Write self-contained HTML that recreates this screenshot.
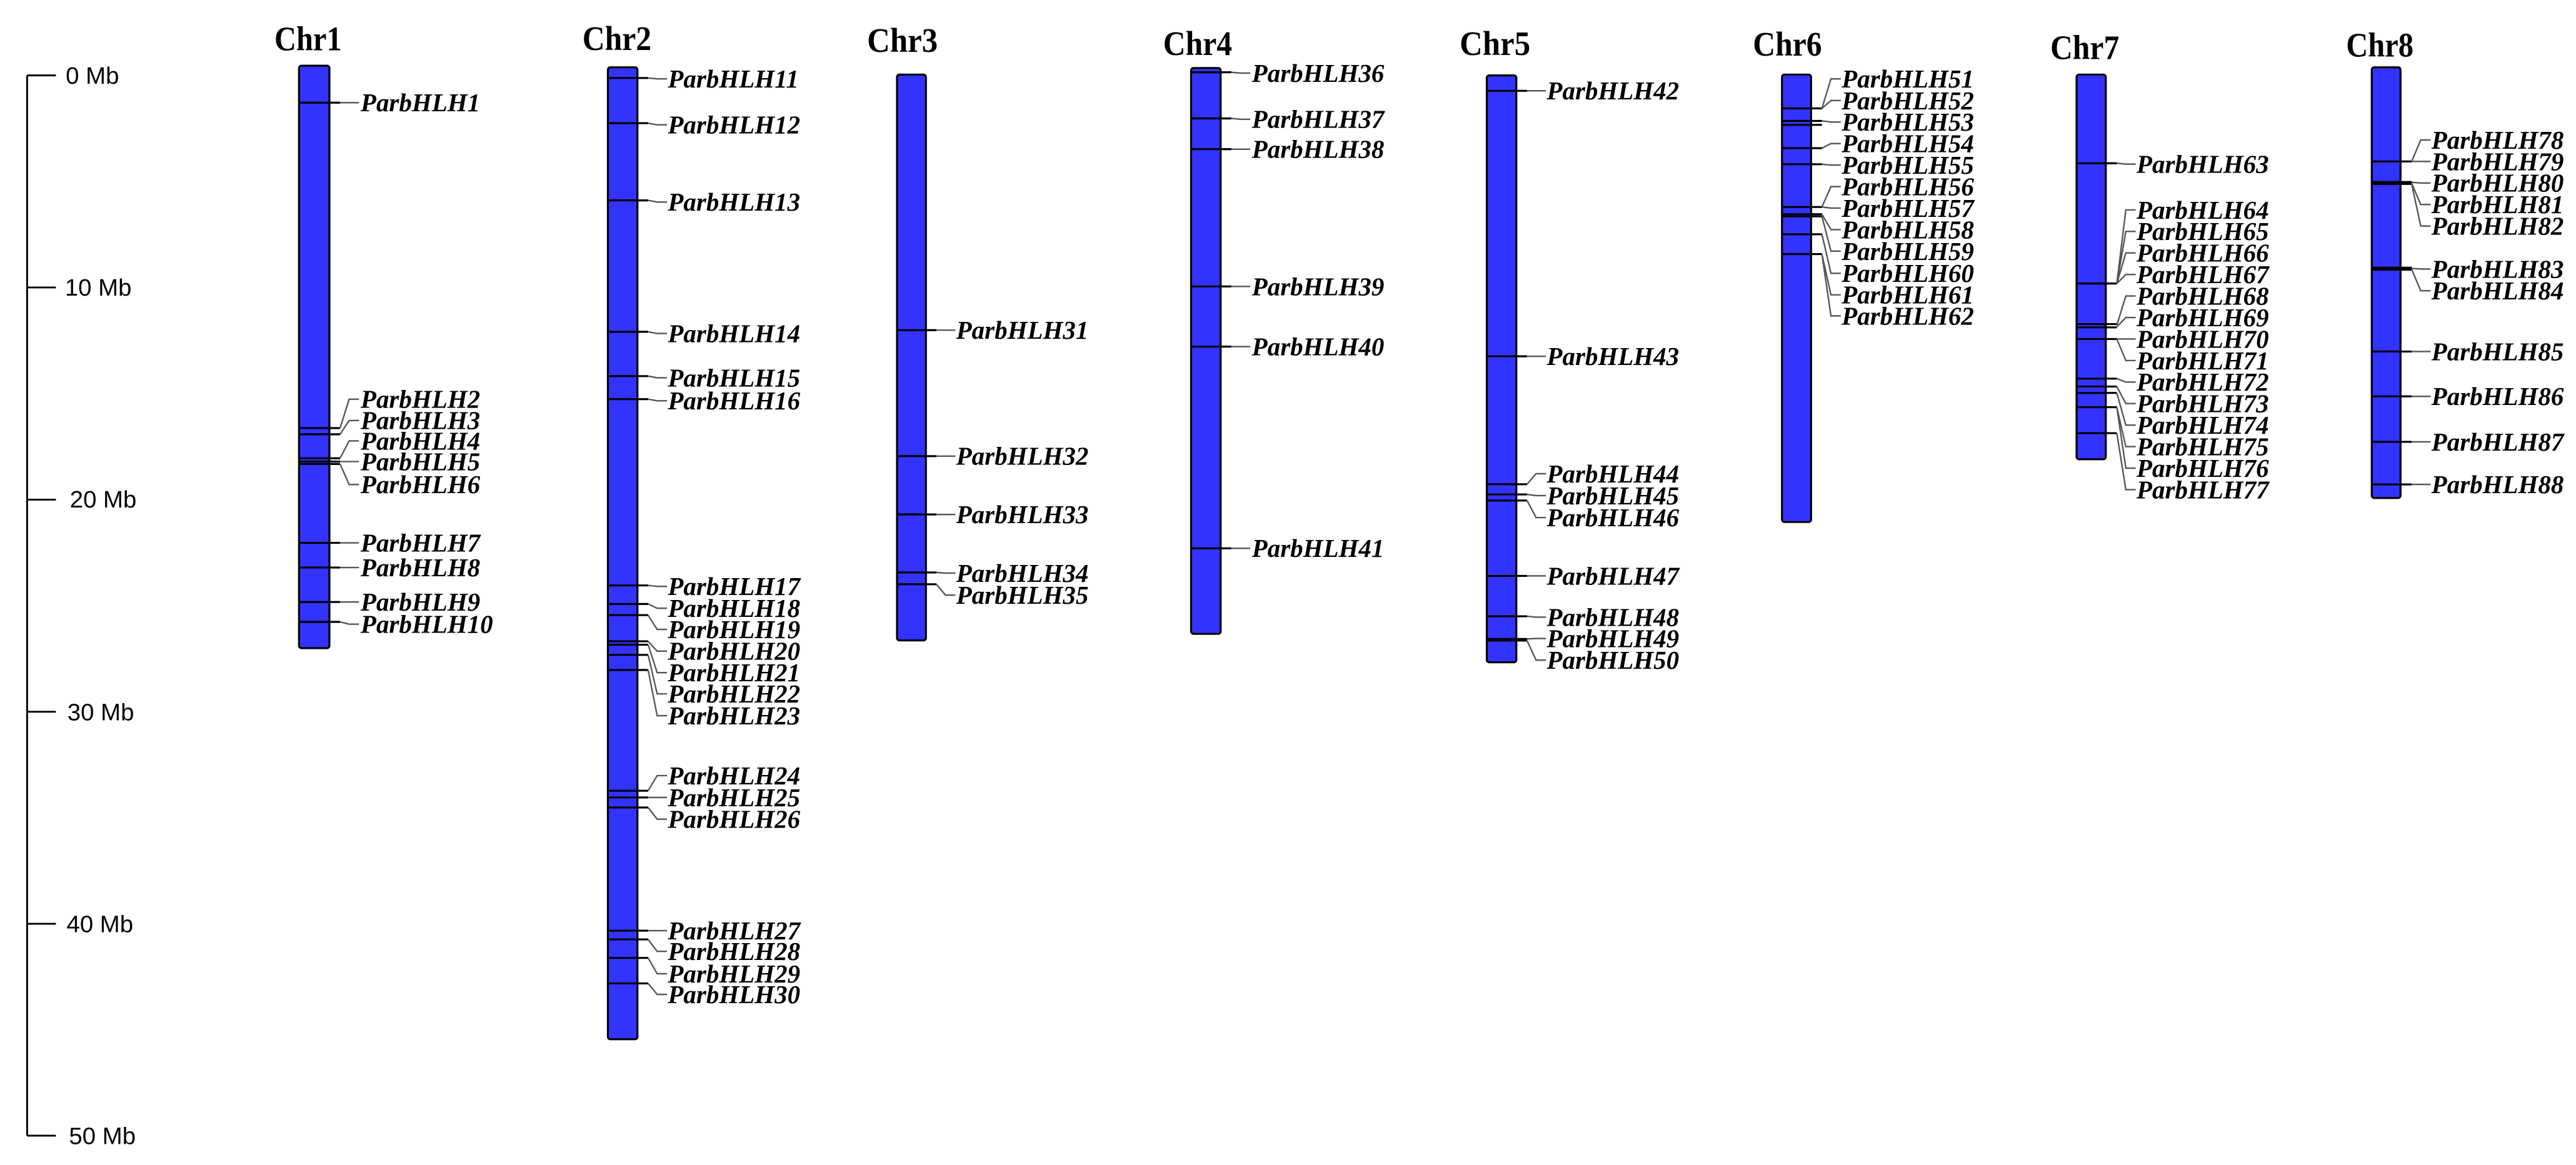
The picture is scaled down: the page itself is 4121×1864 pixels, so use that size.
<!DOCTYPE html>
<html><head><meta charset="utf-8"><style>
html,body{margin:0;padding:0;background:#fff;}
svg{display:block;}
.t{font-family:"Liberation Serif",serif;font-weight:bold;font-style:italic;font-size:15.6px;}
.c{font-family:"Liberation Serif",serif;font-weight:bold;font-size:21px;}
.a{font-family:"Liberation Sans",sans-serif;font-size:14.6px;}
.m{stroke:#000;stroke-width:1.2;fill:none;}
.k{stroke:#555;stroke-width:0.9;fill:none;}
.b{fill:#3333ff;stroke:#000;stroke-width:1.2;}
</style></head><body>
<svg width="4121" height="1864" viewBox="0 0 1568 709.25" xmlns="http://www.w3.org/2000/svg">
<g stroke="#000" stroke-width="1.1" fill="none">
<path d="M16.5 45.9 V691.4 M16.5 45.9 H34 M16.5 175 H34 M16.5 304.2 H34 M16.5 433.3 H34 M16.5 562.4 H34 M16.5 691.4 H34"/>
</g>
<g class="a">
<text x="40" y="51">0 Mb</text>
<text x="39.5" y="180">10 Mb</text>
<text x="42.5" y="309">20 Mb</text>
<text x="41" y="438.5">30 Mb</text>
<text x="40.5" y="567.5">40 Mb</text>
<text x="42" y="696.5">50 Mb</text>
</g>
<g class="c" text-anchor="middle">
<text x="187.5" y="30.7" textLength="41" lengthAdjust="spacingAndGlyphs">Chr1</text>
<text x="375.5" y="30.5" textLength="42" lengthAdjust="spacingAndGlyphs">Chr2</text>
<text x="549.3" y="31.5" textLength="43" lengthAdjust="spacingAndGlyphs">Chr3</text>
<text x="729" y="33.4" textLength="42" lengthAdjust="spacingAndGlyphs">Chr4</text>
<text x="910" y="33.4" textLength="43" lengthAdjust="spacingAndGlyphs">Chr5</text>
<text x="1088" y="33.9" textLength="42" lengthAdjust="spacingAndGlyphs">Chr6</text>
<text x="1269" y="36" textLength="42" lengthAdjust="spacingAndGlyphs">Chr7</text>
<text x="1448.6" y="34.5" textLength="41" lengthAdjust="spacingAndGlyphs">Chr8</text>
</g>
<rect class="b" x="182" y="40" width="18.5" height="354.6" rx="1.5"/>
<rect class="b" x="370" y="41" width="18" height="591.7" rx="1.5"/>
<rect class="b" x="546" y="45.4" width="17.6" height="344.5" rx="1.5"/>
<rect class="b" x="725" y="41.4" width="18" height="344.5" rx="1.5"/>
<rect class="b" x="905" y="45.9" width="18" height="357.3" rx="1.5"/>
<rect class="b" x="1084.7" y="45.4" width="17.7" height="272.4" rx="1.5"/>
<rect class="b" x="1264" y="45.4" width="17.8" height="234.2" rx="1.5"/>
<rect class="b" x="1443.7" y="41" width="17.5" height="262.2" rx="1.5"/>

<path class="m" d="M182 62.5H207M182 260.6H207M182 264.4H207M182 279H207M182 281H207M182 282.5H207M182 330.5H207M182 345.5H207M182 366.5H207M182 378.6H207"/>
<path class="k" d="M207 62.5L212.5 62.5H218.5M207 260.6L212.5 243H218.5M207 264.4L212.5 256H218.5M207 279L212.5 268.4H218.5M207 281L212.5 281H218.5M207 282.5L212.5 295H218.5M207 330.5L212.5 330.5H218.5M207 345.5L212.5 345.5H218.5M207 366.5L212.5 366.5H218.5M207 378.6L212.5 380H218.5"/>
<g class="t">
<text x="219.5" y="67.8">ParbHLH1</text>
<text x="219.5" y="248.3">ParbHLH2</text>
<text x="219.5" y="261.3">ParbHLH3</text>
<text x="219.5" y="273.7">ParbHLH4</text>
<text x="219.5" y="286.3">ParbHLH5</text>
<text x="219.5" y="300.3">ParbHLH6</text>
<text x="219.5" y="335.8">ParbHLH7</text>
<text x="219.5" y="350.8">ParbHLH8</text>
<text x="219.5" y="371.8">ParbHLH9</text>
<text x="219.5" y="385.3">ParbHLH10</text>
</g>

<path class="m" d="M370 47.5H394.5M370 75H394.5M370 122H394.5M370 202H394.5M370 229H394.5M370 243H394.5M370 356.4H394.5M370 367.7H394.5M370 374.5H394.5M370 390.4H394.5M370 392.5H394.5M370 398.7H394.5M370 407.9H394.5M370 481.4H394.5M370 485.5H394.5M370 491.6H394.5M370 566.6H394.5M370 571.9H394.5M370 583.2H394.5M370 598.7H394.5"/>
<path class="k" d="M394.5 47.5L400 48H406M394.5 75L400 76H406M394.5 122L400 123H406M394.5 202L400 203H406M394.5 229L400 230H406M394.5 243L400 244H406M394.5 356.4L400 357H406M394.5 367.7L400 370.3H406M394.5 374.5L400 383.2H406M394.5 390.4L400 396.4H406M394.5 392.5L400 409.5H406M394.5 398.7L400 422.4H406M394.5 407.9L400 435.7H406M394.5 481.4L400 472.2H406M394.5 485.5L400 485.5H406M394.5 491.6L400 498.7H406M394.5 566.6L400 566.6H406M394.5 571.9L400 579.2H406M394.5 583.2L400 592.8H406M394.5 598.7L400 605.4H406"/>
<g class="t">
<text x="406.5" y="53.3">ParbHLH11</text>
<text x="406.5" y="81.3">ParbHLH12</text>
<text x="406.5" y="128.3">ParbHLH13</text>
<text x="406.5" y="208.3">ParbHLH14</text>
<text x="406.5" y="235.3">ParbHLH15</text>
<text x="406.5" y="249.3">ParbHLH16</text>
<text x="406.5" y="362.3">ParbHLH17</text>
<text x="406.5" y="375.6">ParbHLH18</text>
<text x="406.5" y="388.5">ParbHLH19</text>
<text x="406.5" y="401.7">ParbHLH20</text>
<text x="406.5" y="414.8">ParbHLH21</text>
<text x="406.5" y="427.7">ParbHLH22</text>
<text x="406.5" y="441">ParbHLH23</text>
<text x="406.5" y="477.5">ParbHLH24</text>
<text x="406.5" y="490.8">ParbHLH25</text>
<text x="406.5" y="504">ParbHLH26</text>
<text x="406.5" y="571.9">ParbHLH27</text>
<text x="406.5" y="584.5">ParbHLH28</text>
<text x="406.5" y="598.1">ParbHLH29</text>
<text x="406.5" y="610.7">ParbHLH30</text>
</g>

<path class="m" d="M546 201H570M546 277.7H570M546 313.2H570M546 348.5H570M546 355.7H570"/>
<path class="k" d="M570 201L575.5 201H581.5M570 277.7L575.5 277.7H581.5M570 313.2L575.5 313.2H581.5M570 348.5L575.5 348.9H581.5M570 355.7L575.5 362.3H581.5"/>
<g class="t">
<text x="582" y="206.3">ParbHLH31</text>
<text x="582" y="283">ParbHLH32</text>
<text x="582" y="318.5">ParbHLH33</text>
<text x="582" y="354.2">ParbHLH34</text>
<text x="582" y="367.6">ParbHLH35</text>
</g>

<path class="m" d="M725 44H749.5M725 72.1H749.5M725 90.8H749.5M725 174.4H749.5M725 211H749.5M725 333.8H749.5"/>
<path class="k" d="M749.5 44L755 44.5H761M749.5 72.1L755 72.6H761M749.5 90.8L755 90.8H761M749.5 174.4L755 174.4H761M749.5 211L755 211H761M749.5 333.8L755 333.8H761"/>
<g class="t">
<text x="762" y="49.8">ParbHLH36</text>
<text x="762" y="77.9">ParbHLH37</text>
<text x="762" y="96.1">ParbHLH38</text>
<text x="762" y="179.7">ParbHLH39</text>
<text x="762" y="216.3">ParbHLH40</text>
<text x="762" y="339.1">ParbHLH41</text>
</g>

<path class="m" d="M905 55.3H929.5M905 216.9H929.5M905 294.8H929.5M905 301H929.5M905 304.7H929.5M905 350.6H929.5M905 375.2H929.5M905 389H929.5M905 390H929.5"/>
<path class="k" d="M929.5 55.3L935 55.3H941M929.5 216.9L935 216.9H941M929.5 294.8L935 288.4H941M929.5 301L935 301.7H941M929.5 304.7L935 315.1H941M929.5 350.6L935 350.6H941M929.5 375.2L935 375.7H941M929.5 389L935 388.7H941M929.5 390L935 401.9H941"/>
<g class="t">
<text x="941.5" y="60.6">ParbHLH42</text>
<text x="941.5" y="222.2">ParbHLH43</text>
<text x="941.5" y="293.7">ParbHLH44</text>
<text x="941.5" y="307">ParbHLH45</text>
<text x="941.5" y="320.4">ParbHLH46</text>
<text x="941.5" y="355.9">ParbHLH47</text>
<text x="941.5" y="381">ParbHLH48</text>
<text x="941.5" y="394">ParbHLH49</text>
<text x="941.5" y="407.2">ParbHLH50</text>
</g>

<path class="m" d="M1084.7 66H1109M1084.7 73.6H1109M1084.7 76H1109M1084.7 90.2H1109M1084.7 100H1109M1084.7 126H1109M1084.7 130.4H1109M1084.7 131.7H1109M1084.7 142.6H1109M1084.7 154.7H1109"/>
<path class="k" d="M1109 66L1114.5 48H1120.5M1109 66L1114.5 61.2H1120.5M1109 73.6L1114.5 74.3H1120.5M1109 90.2L1114.5 87.4H1120.5M1109 100L1114.5 100.5H1120.5M1109 126L1114.5 113.6H1120.5M1109 126L1114.5 126.7H1120.5M1109 130.4L1114.5 139.8H1120.5M1109 131.7L1114.5 152.9H1120.5M1109 142.6L1114.5 166.4H1120.5M1109 154.7L1114.5 179.5H1120.5M1109 154.7L1114.5 192.3H1120.5"/>
<g class="t">
<text x="1121" y="53.3">ParbHLH51</text>
<text x="1121" y="66.5">ParbHLH52</text>
<text x="1121" y="79.6">ParbHLH53</text>
<text x="1121" y="92.7">ParbHLH54</text>
<text x="1121" y="105.8">ParbHLH55</text>
<text x="1121" y="118.9">ParbHLH56</text>
<text x="1121" y="132">ParbHLH57</text>
<text x="1121" y="145.1">ParbHLH58</text>
<text x="1121" y="158.2">ParbHLH59</text>
<text x="1121" y="171.7">ParbHLH60</text>
<text x="1121" y="184.8">ParbHLH61</text>
<text x="1121" y="197.6">ParbHLH62</text>
</g>

<path class="m" d="M1264 99.4H1288.5M1264 172.6H1288.5M1264 197.3H1288.5M1264 199.3H1288.5M1264 206.4H1288.5M1264 230.5H1288.5M1264 235.3H1288.5M1264 239.2H1288.5M1264 247.9H1288.5M1264 263.7H1288.5"/>
<path class="k" d="M1288.5 99.4L1294 99.9H1300M1288.5 172.6L1294 127.8H1300M1288.5 172.6L1294 140.9H1300M1288.5 172.6L1294 154H1300M1288.5 172.6L1294 167.1H1300M1288.5 198L1294 180.2H1300M1288.5 199L1294 193.3H1300M1288.5 206.4L1294 206.4H1300M1288.5 206.4L1294 219.5H1300M1288.5 230.5L1294 232.6H1300M1288.5 235.3L1294 245.7H1300M1288.5 239.2L1294 258.8H1300M1288.5 247.9L1294 271.9H1300M1288.5 247.9L1294 285H1300M1288.5 263.7L1294 298.1H1300"/>
<g class="t">
<text x="1300.5" y="105.2">ParbHLH63</text>
<text x="1300.5" y="133.1">ParbHLH64</text>
<text x="1300.5" y="146.2">ParbHLH65</text>
<text x="1300.5" y="159.3">ParbHLH66</text>
<text x="1300.5" y="172.4">ParbHLH67</text>
<text x="1300.5" y="185.5">ParbHLH68</text>
<text x="1300.5" y="198.6">ParbHLH69</text>
<text x="1300.5" y="211.7">ParbHLH70</text>
<text x="1300.5" y="224.8">ParbHLH71</text>
<text x="1300.5" y="237.9">ParbHLH72</text>
<text x="1300.5" y="251">ParbHLH73</text>
<text x="1300.5" y="264.1">ParbHLH74</text>
<text x="1300.5" y="277.2">ParbHLH75</text>
<text x="1300.5" y="290.3">ParbHLH76</text>
<text x="1300.5" y="303.4">ParbHLH77</text>
</g>

<path class="m" d="M1443.7 98.3H1468M1443.7 110.8H1468M1443.7 112H1468M1443.7 163H1468M1443.7 164.2H1468M1443.7 214H1468M1443.7 241.3H1468M1443.7 269H1468M1443.7 294.9H1468"/>
<path class="k" d="M1468 98.3L1473.5 85.2H1479.5M1468 98.3L1473.5 98.3H1479.5M1468 111L1473.5 111.4H1479.5M1468 111.6L1473.5 124.5H1479.5M1468 112L1473.5 137.6H1479.5M1468 163.4L1473.5 163.8H1479.5M1468 164L1473.5 177H1479.5M1468 214L1473.5 214H1479.5M1468 241.3L1473.5 241.3H1479.5M1468 269L1473.5 269H1479.5M1468 294.9L1473.5 294.9H1479.5"/>
<g class="t">
<text x="1480" y="90.5">ParbHLH78</text>
<text x="1480" y="103.6">ParbHLH79</text>
<text x="1480" y="116.7">ParbHLH80</text>
<text x="1480" y="129.8">ParbHLH81</text>
<text x="1480" y="142.9">ParbHLH82</text>
<text x="1480" y="169.1">ParbHLH83</text>
<text x="1480" y="182.3">ParbHLH84</text>
<text x="1480" y="219.3">ParbHLH85</text>
<text x="1480" y="246.6">ParbHLH86</text>
<text x="1480" y="274.3">ParbHLH87</text>
<text x="1480" y="300.2">ParbHLH88</text>
</g>
</svg>
</body></html>
